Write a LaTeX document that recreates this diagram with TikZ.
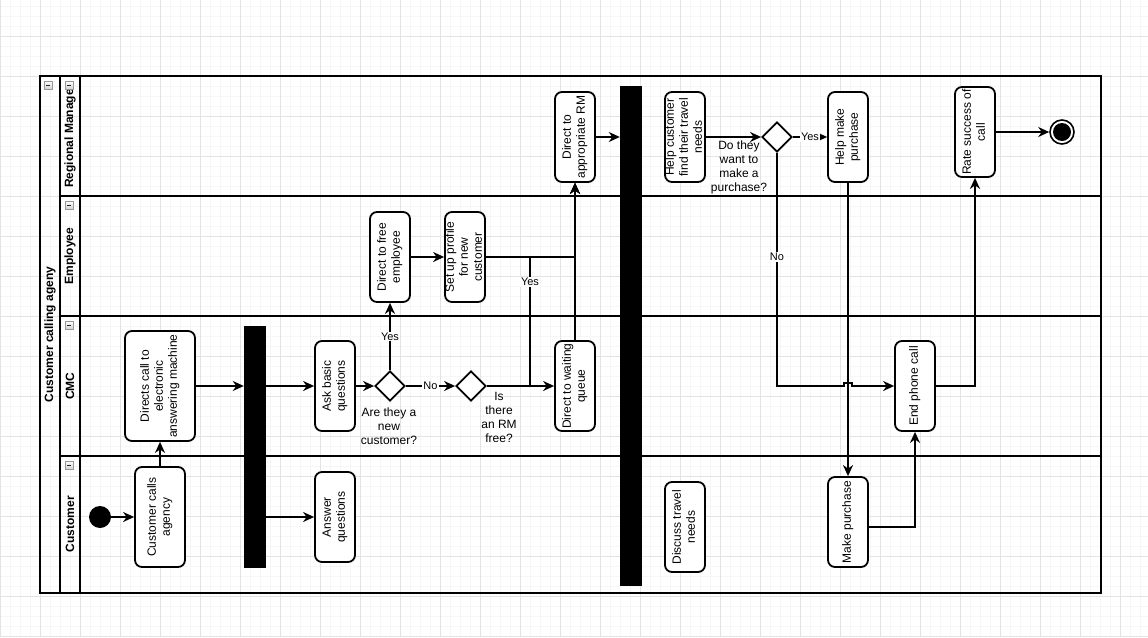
\documentclass[tikz,border=0pt]{standalone}
\usepackage{fontspec}
\setmainfont{Liberation Sans}
\usetikzlibrary{arrows.meta,shapes.geometric}
\newcommand{\rtxt}[1]{\rotatebox{90}{\begin{tabular}{@{}c@{}}#1\end{tabular}}}
\tikzset{
  minorgrid/.style={draw=gray!7, line width=0.8pt},
  majorgrid/.style={draw=gray!22, line width=0.8pt},
  lanes/.style={line width=2pt},
  act/.style={draw, fill=white, line width=1.8pt, rounded corners=7pt, inner sep=0pt, minimum width=40pt, minimum height=90pt},
  acttext/.style={inner sep=0pt, font=\fontsize{12}{14}\selectfont},
  dec/.style={draw, fill=white, diamond, line width=1.8pt, inner sep=0pt, minimum width=30pt, minimum height=30pt},
  bar/.style={fill=black, inner sep=0pt, minimum width=22pt},
  edge/.style={line width=1.6pt, -{Stealth[length=11pt,width=10pt,inset=3.5pt]}},
  elabel/.style={fill=white, inner sep=1pt, font=\fontsize{11}{13}\selectfont},
  dlabel/.style={align=center, inner sep=0pt, font=\fontsize{12}{14}\selectfont},
  lanelabel/.style={rotate=90, inner sep=0pt, font=\fontsize{12}{14}\selectfont\bfseries},
  icon/.style={draw=gray!80, top color=white, bottom color=gray!35, line width=0.7pt},
}
\begin{document}
\begin{tikzpicture}[x=1pt,y=-1pt]
\useasboundingbox (0,0) rectangle (1148,637);
\fill[white] (0,0) rectangle (1148,637);
% grid
\foreach \x in {0,10,...,1140} \draw[minorgrid] (\x,0) -- (\x,637);
\foreach \y in {6,16,...,636} \draw[minorgrid] (0,\y) -- (1148,\y);
\foreach \x in {0,40,...,1120} \draw[majorgrid] (\x,0) -- (\x,637);
\foreach \y in {36,76,...,636} \draw[majorgrid] (0,\y) -- (1148,\y);

% pool and lanes
\draw[lanes] (40,76) rectangle (1101,593);
\draw[lanes] (60,76) -- (60,593);
\draw[lanes] (80,76) -- (80,593);
\draw[lanes] (60,196) -- (1101,196);
\draw[lanes] (60,316) -- (1101,316);
\draw[lanes] (60,456) -- (1101,456);

\node[lanelabel] (pooltitle) at (50,334.5) {Customer calling ageny};
\node[lanelabel] (lrm) at (70,138.5) {Regional Manage};
\node[lanelabel] (lemp) at (70,256) {Employee};
\node[lanelabel] (lcmc) at (70,386) {CMC};
\node[lanelabel] (lcus) at (70,524) {Customer};

% collapse icons
\foreach \ix/\iy in {44/81, 65/81, 65/201, 65/321, 65/461} {
  \draw[icon] (\ix,\iy) rectangle ++(8,8);
  \draw[line width=0.9pt, gray!30!black] (\ix+2,\iy+4) -- (\ix+6,\iy+4);
}

% nodes
\node[circle, fill=black, minimum size=22pt, inner sep=0pt] (start) at (100,517) {};
\node[act, minimum width=50pt, minimum height=100pt] (cca) at (160,517) {};
\node[acttext] at (cca) {\rtxt{Customer calls\\agency}};
\node[act, minimum width=70pt, minimum height=110pt] (dca) at (160,386) {};
\node[acttext] at (dca) {\rtxt{Directs call to\\electronic\\answering machine}};
\node[bar, minimum height=242pt] (bar1) at (255,447) {};
\node[act] (abq) at (335,386) {};
\node[acttext] at (abq) {\rtxt{Ask basic\\questions}};
\node[act] (aq) at (335,517) {};
\node[acttext] at (aq) {\rtxt{Answer\\questions}};
\node[dec] (d1) at (390,386) {};
\node[dlabel] (d1l) at (389,426.5) {Are they a\\new\\customer?};
\node[act] (dfe) at (390,257) {};
\node[acttext] at (dfe) {\rtxt{Direct to free\\employee}};
\node[act] (sup) at (465,257) {};
\node[acttext] at (sup) {\rtxt{Set up profile\\for new\\customer}};
\node[dec] (d2) at (471,386) {};
\node[dlabel] (d2l) at (499,417) {Is\\there\\an RM\\free?};
\node[act] (dwq) at (575,386) {};
\node[acttext] at (dwq) {\rtxt{Direct to waiting\\queue}};
\node[act] (drm) at (575,137) {};
\node[acttext] at (drm) {\rtxt{Direct to\\appropriate RM}};
\node[bar, minimum height=500pt] (bar2) at (631,336) {};
\node[act] (hc) at (685,137) {};
\node[acttext] at (hc) {\rtxt{Help customer\\find their travel\\needs}};
\node[dec] (d3) at (777,137) {};
\node[dlabel] (d3l) at (739,167) {Do they\\want to\\make a\\purchase?};
\node[act] (hmp) at (848,137) {};
\node[acttext] at (hmp) {\rtxt{Help make\\purchase}};
\node[act] (mp) at (848,522) {};
\node[acttext] at (mp) {\rtxt{Make purchase}};
\node[act] (epc) at (915,386) {};
\node[acttext] at (epc) {\rtxt{End phone call}};
\node[act] (rsc) at (975,132) {};
\node[acttext] at (rsc) {\rtxt{Rate success of\\call}};
\node[act] (dtn) at (685,527) {};
\node[acttext] at (dtn) {\rtxt{Discuss travel\\needs}};
\node[circle, draw, fill=white, line width=1.6pt, minimum size=24pt, inner sep=0pt] (endn) at (1062,132) {};
\fill (endn.center) circle (9pt);

% connectors
\draw[edge] (start) -- (cca);
\draw[edge] (cca.north) -- (dca.south);
\draw[edge] (dca.east) -- (dca.east -| bar1.west);
\draw[edge] (bar1.east |- abq.west) -- (abq.west);
\draw[edge] (bar1.east |- aq.west) -- (aq.west);
\draw[edge] (abq) -- (d1);
\draw[edge] (d1.north) -- node[elabel] {Yes} (dfe.south);
\draw[edge] (d1.east) -- node[elabel] {No} (d2.west);
\draw[edge] (dfe) -- (sup);
\draw[edge] (sup.east) -| (drm.south);
\draw[edge] (d2.east) -- (dwq.west);
\coordinate (yb) at (530,386);
\coordinate (yt) at (530,257);
\draw[edge] (d2.east) -- (yb) -- (yt) -| (drm.south);
\node[elabel] (yl) at (530,282) {Yes};
\draw[edge] (dwq.north) -- (drm.south);
\draw[edge] (drm.east) -- (drm.east -| bar2.west);
\draw[edge] (hc) -- (d3);
\draw[edge] (d3.east) -- node[elabel] {Yes} (hmp.west);
\coordinate (j1) at (844,386);
\coordinate (j2) at (844,383);
\coordinate (j3) at (852,383);
\coordinate (j4) at (852,386);
\draw[edge] (d3.south) |- (j1) -- (j2) -- (j3) -- (j4) -- (epc.west);
\node[elabel] (nl) at (777,257) {No};
\draw[edge] (hmp.south) -- (mp.north);
\draw[edge] ([yshift=-5pt]mp.east) -| (epc.south);
\draw[edge] (epc.east) -| (rsc.south);
\draw[edge] (rsc.east) -- (endn.west);
\end{tikzpicture}
\end{document}
